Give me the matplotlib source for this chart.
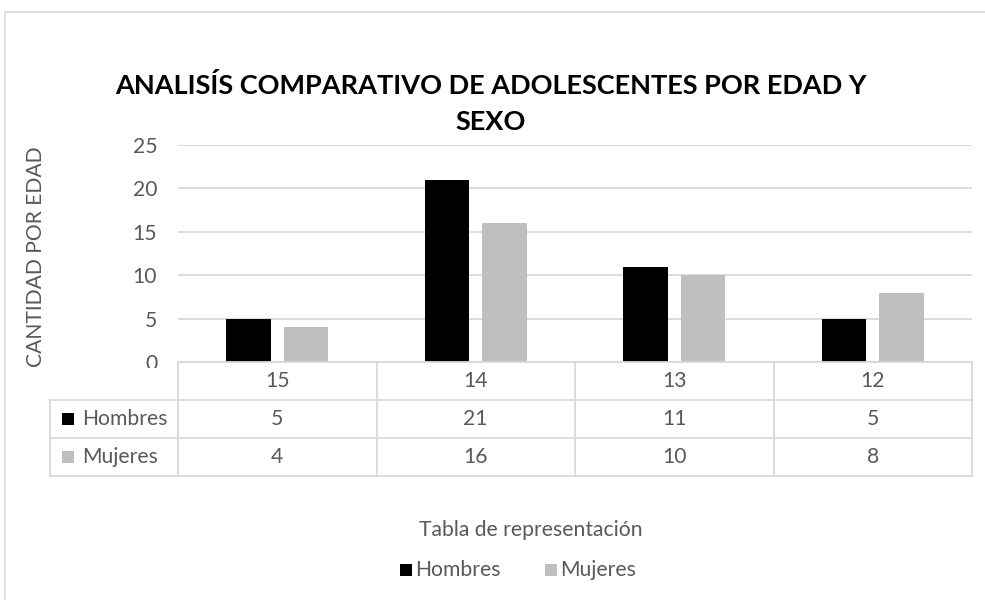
import matplotlib
matplotlib.use("Agg")
import matplotlib.pyplot as plt
from matplotlib.patches import Rectangle
from matplotlib.lines import Line2D

categories = ["15", "14", "13", "12"]
series_names = ["Hombres", "Mujeres"]
hombres = [5, 21, 11, 5]
mujeres = [4, 16, 10, 8]
series_values = [hombres, mujeres]
series_colors = ["#000000", "#BFBFBF"]
yticks = [0, 5, 10, 15, 20, 25]

title = "ANALISÍS COMPARATIVO DE ADOLESCENTES POR EDAD Y\nSEXO"
ylabel = "CANTIDAD POR EDAD"
xlabel = "Tabla de representación"

W, H = 985, 600
TXT = "#595959"
GRID = "#D9D9D9"
FONT = "Lato"
FS = 15.2

fig = plt.figure(figsize=(W / 100, H / 100), dpi=100)
fig.patch.set_facecolor("white")


def fx(x):
    return x / W


def fy(y):
    return 1 - y / H


# outer chart frame
fig.add_artist(Rectangle((fx(5), fy(610)), fx(1000) - fx(5), fy(12) - fy(610),
                         transform=fig.transFigure, fill=False, edgecolor=GRID, lw=1.2))

# plot area
L, R, T, B = 178, 972, 145, 362
ax = fig.add_axes([fx(L), fy(B), fx(R) - fx(L), fy(T) - fy(B)])
ax.set_xlim(-0.5, len(categories) - 0.5)
ax.set_ylim(0, 25)
for s in ax.spines.values():
    s.set_visible(False)
ax.set_yticks(yticks)
ax.set_yticklabels([str(v) for v in yticks], fontsize=FS, color=TXT, family=FONT)
ax.tick_params(axis="y", length=0, pad=15)
ax.set_xticks([])
ax.grid(axis="y", color=GRID, lw=1.3)
ax.set_axisbelow(True)

bw = 0.225
offs = [-0.145, 0.145]
xs = range(len(categories))
for vals, col, off in zip(series_values, series_colors, offs):
    ax.bar([x + off for x in xs], vals, width=bw, color=col, zorder=3)

# y label
fig.text(fx(36), fy(257), ylabel, rotation=90, ha="center", va="center",
         fontsize=FS, color=TXT, family=FONT)

# title
fig.text(fx(491), fy(104), title, ha="center", va="center", fontsize=19.5,
         fontweight="bold", color="#000000", family=FONT, linespacing=1.6)

# data table
rows_y = [362, 400, 438, 476]
colw = (R - L) / len(categories)
col_x = [L + i * colw for i in range(len(categories) + 1)]
lab_left = 50

# white cover to clip the "0" tick label like the reference
fig.add_artist(Rectangle((fx(120), fy(400)), fx(L) - fx(120), fy(368) - fy(400),
                         transform=fig.transFigure, facecolor="white", edgecolor="none", zorder=5))


def hline(x0, x1, y):
    fig.add_artist(Line2D([fx(x0), fx(x1)], [fy(y), fy(y)], transform=fig.transFigure,
                          color=GRID, lw=1.3, zorder=6))


def vline(x, y0, y1):
    fig.add_artist(Line2D([fx(x), fx(x)], [fy(y0), fy(y1)], transform=fig.transFigure,
                          color=GRID, lw=1.3, zorder=6))


hline(L, R, rows_y[0])
for y in rows_y[1:]:
    hline(lab_left, R, y)
for x in col_x:
    vline(x, rows_y[0], rows_y[-1])
vline(lab_left, rows_y[1], rows_y[-1])

for i, c in enumerate(categories):
    cx = (col_x[i] + col_x[i + 1]) / 2
    fig.text(fx(cx), fy((rows_y[0] + rows_y[1]) / 2), c, ha="center", va="center",
             fontsize=FS, color=TXT, family=FONT, zorder=7)
    for r, vals in enumerate(series_values):
        fig.text(fx(cx), fy((rows_y[r + 1] + rows_y[r + 2]) / 2), str(vals[i]),
                 ha="center", va="center", fontsize=FS, color=TXT, family=FONT, zorder=7)

for r, (name, col) in enumerate(zip(series_names, series_colors)):
    yc = (rows_y[r + 1] + rows_y[r + 2]) / 2
    fig.add_artist(Rectangle((fx(62), fy(yc + 6)), fx(12), fy(0) - fy(12),
                             transform=fig.transFigure, facecolor=col, edgecolor="none", zorder=7))
    fig.text(fx(82), fy(yc), name, ha="left", va="center", fontsize=FS,
             color=TXT, family=FONT, zorder=7)

# x label
fig.text(fx(531), fy(530), xlabel, ha="center", va="center", fontsize=FS,
         color=TXT, family=FONT)

# legend
leg_items = [(400, series_names[0], series_colors[0]), (545, series_names[1], series_colors[1])]
for x0, name, col in leg_items:
    fig.add_artist(Rectangle((fx(x0), fy(576)), fx(12), fy(0) - fy(12),
                             transform=fig.transFigure, facecolor=col, edgecolor="none"))
    fig.text(fx(x0 + 15), fy(570), name, ha="left", va="center", fontsize=FS,
             color=TXT, family=FONT)

fig.savefig("out.png", dpi=100, facecolor="white")
